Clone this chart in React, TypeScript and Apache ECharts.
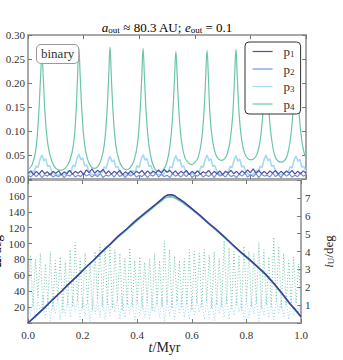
import React, { useEffect, useRef } from "react";
import * as echarts from "echarts";

const FONT = "Liberation Serif";

// ---------- top panel data ----------
const legendNames = ["p1", "p2", "p3", "p4"];
const colors: Record<string, string> = {
  p1: "#5a4ba6",
  p2: "#7395cf",
  p3: "#a6daee",
  p4: "#6cc4ad",
};

const p4T = [0.000,0.015,0.028,0.038,0.045,0.050,0.055,0.062,0.072,0.085,
  0.100,0.117,0.134,0.150,0.163,0.172,0.178,0.183,0.188,0.195,
  0.204,0.215,0.227,0.239,0.251,0.263,0.274,0.283,0.290,0.295,
  0.300,0.307,0.316,0.328,0.341,0.354,0.367,0.381,0.393,0.402,
  0.409,0.414,0.419,0.426,0.435,0.446,0.459,0.473,0.487,0.500,
  0.511,0.520,0.527,0.532,0.537,0.544,0.553,0.564,0.576,0.588,
  0.600,0.612,0.623,0.632,0.639,0.644,0.649,0.655,0.664,0.674,
  0.685,0.696,0.707,0.717,0.727,0.736,0.743,0.748,0.753,0.760,
  0.769,0.779,0.790,0.802,0.814,0.825,0.835,0.844,0.851,0.856,
  0.861,0.868,0.877,0.887,0.898,0.910,0.922,0.933,0.943,0.952,
  0.959,0.964,0.969,0.976,0.985,0.993,1.000];
const p4V = [0.019,0.030,0.060,0.130,0.210,0.262,0.210,0.130,0.070,0.038,
  0.022,0.018,0.022,0.038,0.070,0.130,0.210,0.272,0.210,0.130,
  0.070,0.040,0.026,0.022,0.026,0.040,0.070,0.130,0.210,0.275,
  0.210,0.130,0.070,0.038,0.023,0.019,0.023,0.038,0.070,0.130,
  0.210,0.272,0.210,0.130,0.070,0.036,0.019,0.015,0.019,0.036,
  0.070,0.130,0.210,0.266,0.210,0.130,0.075,0.045,0.034,0.030,
  0.034,0.045,0.075,0.130,0.210,0.268,0.210,0.130,0.080,0.053,
  0.042,0.039,0.042,0.053,0.080,0.130,0.210,0.270,0.210,0.130,
  0.080,0.054,0.043,0.040,0.043,0.054,0.080,0.130,0.210,0.270,
  0.210,0.130,0.080,0.050,0.038,0.035,0.038,0.050,0.080,0.130,
  0.210,0.270,0.210,0.130,0.080,0.055,0.045];

const p3T = [0.000,0.005,0.014,0.022,0.029,0.036,0.043,0.050,0.057,0.064,0.071,0.078,0.086,0.095,0.117,
  0.138,0.147,0.155,0.162,0.169,0.176,0.183,0.190,0.197,0.204,0.211,0.219,0.228,0.239,
  0.250,0.259,0.267,0.274,0.281,0.288,0.295,0.302,0.309,0.316,0.323,0.331,0.340,0.354,
  0.369,0.378,0.386,0.393,0.400,0.407,0.414,0.421,0.428,0.435,0.442,0.450,0.459,0.473,
  0.487,0.496,0.504,0.511,0.518,0.525,0.532,0.539,0.546,0.553,0.560,0.568,0.577,0.588,
  0.599,0.608,0.616,0.623,0.630,0.637,0.644,0.651,0.658,0.665,0.672,0.680,0.689,0.696,
  0.703,0.712,0.720,0.727,0.734,0.741,0.748,0.755,0.762,0.769,0.776,0.784,0.793,0.802,
  0.811,0.820,0.828,0.835,0.842,0.849,0.856,0.863,0.870,0.877,0.884,0.892,0.901,0.910,
  0.919,0.928,0.936,0.943,0.950,0.957,0.964,0.971,0.978,0.985,0.992,1.000];
const p3V = [0.012,0.010,0.017,0.014,0.027,0.024,0.040,0.050,0.038,0.042,0.026,0.028,0.015,0.010,0.008,
  0.011,0.018,0.015,0.029,0.025,0.042,0.052,0.040,0.044,0.027,0.029,0.016,0.010,0.009,
  0.010,0.016,0.013,0.025,0.022,0.038,0.047,0.036,0.040,0.024,0.026,0.014,0.010,0.008,
  0.011,0.017,0.015,0.028,0.024,0.041,0.051,0.039,0.043,0.026,0.028,0.015,0.011,0.009,
  0.010,0.017,0.014,0.026,0.023,0.039,0.049,0.037,0.041,0.025,0.027,0.015,0.011,0.010,
  0.011,0.017,0.014,0.027,0.024,0.040,0.050,0.038,0.042,0.026,0.028,0.015,0.010,0.009,
  0.010,0.016,0.014,0.026,0.024,0.039,0.049,0.037,0.042,0.025,0.027,0.015,0.010,0.008,
  0.011,0.017,0.014,0.027,0.024,0.040,0.050,0.038,0.042,0.026,0.028,0.015,0.010,0.009,
  0.010,0.016,0.014,0.026,0.023,0.039,0.048,0.037,0.041,0.025,0.026,0.016];

// sampled on an even time grid over 0..1 Myr
const p1V = [0.012,0.017,0.009,0.016,0.010,0.018,0.011,0.015,0.008,0.016,0.012,0.017,0.009,0.015,0.011,0.018,0.010,0.016,0.012,0.017,
  0.009,0.019,0.013,0.021,0.012,0.018,0.014,0.020,0.011,0.017,0.010,0.016,0.012,0.018,0.009,0.015,0.011,0.017,0.010,0.016,
  0.012,0.018,0.010,0.017,0.011,0.016,0.013,0.019,0.012,0.020,0.014,0.018,0.011,0.017,0.010,0.016,0.012,0.018,0.009,0.016,
  0.011,0.017,0.010,0.015,0.012,0.018,0.010,0.016,0.011,0.017,0.009,0.016,0.012,0.018,0.011,0.016,0.010,0.017,0.012,0.019,
  0.013,0.021,0.012,0.018,0.011,0.016,0.010,0.017,0.012,0.018,0.010,0.016,0.011,0.017,0.012,0.018,0.010,0.016,0.011,0.017,0.012];
const p2V = [0.008,0.004,0.010,0.005,0.011,0.003,0.009,0.006,0.012,0.004,0.008,0.005,0.010,0.003,0.009,0.006,0.011,0.004,0.008,0.005,
  0.012,0.006,0.010,0.004,0.009,0.005,0.011,0.003,0.008,0.006,0.010,0.004,0.012,0.005,0.009,0.003,0.010,0.006,0.011,0.004,
  0.008,0.005,0.010,0.003,0.009,0.006,0.012,0.004,0.010,0.005,0.008,0.003,0.011,0.006,0.009,0.004,0.010,0.005,0.012,0.003,
  0.008,0.006,0.011,0.004,0.009,0.005,0.010,0.003,0.012,0.006,0.009,0.004,0.011,0.005,0.008,0.003,0.010,0.006,0.012,0.004,
  0.009,0.005,0.011,0.003,0.010,0.006,0.008,0.004,0.012,0.005,0.009,0.003,0.011,0.006,0.010,0.004,0.008,0.005,0.012,0.006,0.009];

// ---------- bottom panel data ----------
const incT = [0,0.03,0.06,0.09,0.12,0.15,0.18,0.21,0.24,0.27,0.30,0.33,0.36,0.39,0.42,0.45,0.47,0.49,0.50,0.51,
  0.52,0.53,0.54,0.55,0.57,0.60,0.63,0.66,0.69,0.72,0.75,0.78,0.81,0.84,0.87,0.90,0.93,0.96,0.98,1.0];
const incDark = [0,9.5,19,29.5,39,49.5,59,69.5,79,89.5,99,109.5,118,127.5,136,144.5,150,156,159,161,
  161.5,161,159.5,157,152.5,144,135.5,126,117.5,108,98.5,89,80.5,71,61.5,50,37.5,24,16.5,8];
const incTeal = [0,9,19,29,39,49,59,69,79,89,98.5,108,117,126,135,143,149,154,157,158.5,
  159,158.5,157,155,150.5,143,134.5,125.5,116.5,107.5,97.5,88.5,79.5,70.5,60.5,49.5,36.5,23.5,15.5,7.5];

const dotTeal = [1.2,3.8,0.9,3.6,1.4,3.9,0.7,3.3,1.1,4.0,0.8,3.5,1.3,3.7,0.6,3.4,1.0,4.1,0.9,4.5,
  1.2,3.6,0.8,3.9,1.1,3.4,0.7,4.0,1.3,4.4,0.9,4.3,1.0,4.3,0.8,4.1,1.2,3.9,0.7,3.6,
  1.0,4.2,0.9,3.5,1.1,3.7,0.8,3.4,1.2,3.6,0.7,3.9,1.0,3.5,0.9,4.6,1.1,4.1,0.8,3.7,
  1.2,3.5,0.9,3.6,1.0,4.1,0.7,4.0,1.1,3.9,0.9,4.1,1.2,3.8,0.8,4.0,1.0,3.6,0.9,4.6,
  1.1,4.2,0.8,4.0,1.0,3.8,0.7,4.3,1.2,4.0,0.9,3.9,1.1,4.5,0.8,4.1,1.0,3.7,0.9,4.8,
  1.2,4.3,0.8,3.9,1.0,3.5,0.9,3.7,1.1,3.3,1.0];
const dotBlue = [1.3,0.4,1.4,0.2,1.3,0.6,1.5,0.3,1.3,0.1,1.4,0.5,1.3,0.2,1.4,0.4,1.3,0.3,1.5,0.6,
  1.3,0.2,1.4,0.4,1.3,0.1,1.4,0.5,1.3,0.3,1.5,0.2,1.3,0.4,1.4,0.6,1.3,0.2,1.4,0.3,
  1.3,0.5,1.4,0.1,1.3,0.4,1.5,0.3,1.3,0.2,1.4,0.6,1.3,0.3,1.4,0.1,1.3,0.4,1.4,0.2,
  1.3,0.5,1.5,0.3,1.3,0.2,1.4,0.4,1.3,0.6,1.4,0.2,1.3,0.3,1.4,0.1,1.3,0.5,1.4,0.3,
  1.5,0.2,1.3,0.4,1.4,0.6,1.3,0.2,1.4,0.3,1.3,0.5,1.4,0.1,1.3,0.4,1.5,0.3,1.3,0.2,
  1.4,0.5,1.3,0.3,1.4,0.2,1.3,0.4,1.4,0.6,1.3];

const zip = (ts: number[], vs: number[]) => ts.map((t, i) => [t, vs[i]]);
const onGrid = (vs: number[]) => vs.map((v, i) => [i / (vs.length - 1), v]);

const SPINE = { show: true, onZero: false, lineStyle: { color: "#a8a8a8", width: 2 } };
const TICK = { show: true, inside: true, length: 4, lineStyle: { color: "#777", width: 1 } };
const LABEL = { fontFamily: FONT, fontSize: 11, color: "#333" };
const sub = { fontFamily: FONT, fontSize: 9, color: "#222", padding: [5, 0, 0, 0] };
const ital = { fontFamily: FONT, fontSize: 13, fontStyle: "italic", color: "#222" };
const norm = { fontFamily: FONT, fontSize: 13, color: "#222" };

export default function App() {
  const ref = useRef<HTMLDivElement>(null);
  useEffect(() => {
    if (!ref.current) return;
    const chart = echarts.init(ref.current, undefined, { renderer: "svg" });
    const plain = (extra: any = {}) => ({
      type: "value",
      min: 0,
      max: 1,
      interval: 0.2,
      axisLine: SPINE,
      axisTick: TICK,
      axisLabel: { show: false },
      splitLine: { show: false },
      ...extra,
    });
    const topSeries = ["p4", "p3", "p2", "p1"].map((n) => {
      const data =
        n === "p4" ? zip(p4T, p4V) : n === "p3" ? zip(p3T, p3V) : n === "p2" ? onGrid(p2V) : onGrid(p1V);
      return {
        name: n,
        type: "line",
        xAxisIndex: 0,
        yAxisIndex: 0,
        data,
        symbol: "none",
        smooth: n === "p4" ? 0.4 : false,
        lineStyle: { color: colors[n], width: n === "p3" ? 1.6 : 1.2 },
        itemStyle: { color: colors[n] },
        z: 2,
      };
    });
    chart.setOption({
      animation: false,
      backgroundColor: "#fff",
      textStyle: { fontFamily: FONT },
      grid: [
        { left: 28, top: 35, width: 278, height: 144 },
        { left: 28, top: 180, width: 278, height: 143 },
      ],
      xAxis: [
        plain({ gridIndex: 0, position: "bottom" }),
        plain({ gridIndex: 0, position: "top" }),
        plain({
          gridIndex: 1,
          position: "bottom",
          axisLabel: { show: true, ...LABEL, margin: 6, formatter: (v: number) => v.toFixed(1) },
          name: "{i|t}{n|/Myr}",
          nameLocation: "middle",
          nameGap: 14,
          nameTextStyle: { rich: { i: { ...ital, fontSize: 14 }, n: { ...norm, fontSize: 14 } } },
        }),
        plain({ gridIndex: 1, position: "top" }),
      ],
      yAxis: [
        {
          type: "value", gridIndex: 0, position: "left", min: 0, max: 0.3, interval: 0.05,
          axisLine: SPINE, axisTick: TICK, splitLine: { show: false },
          axisLabel: { ...LABEL, margin: 3, formatter: (v: number) => v.toFixed(2) },
        },
        {
          type: "value", gridIndex: 0, position: "right", min: 0, max: 0.3, interval: 0.05,
          axisLine: SPINE, axisTick: TICK, splitLine: { show: false }, axisLabel: { show: false },
        },
        {
          type: "value", gridIndex: 1, position: "left", min: 0, max: 180, interval: 20,
          axisLine: SPINE, axisTick: TICK, splitLine: { show: false },
          axisLabel: { ...LABEL, margin: 3, formatter: (v: number) => (v === 0 || v === 180 ? "" : String(v)) },
        },
        {
          type: "value", gridIndex: 1, position: "right", min: 0, max: 8, interval: 1,
          axisLine: SPINE, axisTick: TICK, splitLine: { show: false },
          axisLabel: { ...LABEL, margin: 4, formatter: (v: number) => (v === 0 || v === 8 ? "" : String(v)) },
          name: "{i|i}{s|U}{n|/deg}",
          nameLocation: "middle",
          nameRotate: 90,
          nameGap: 14,
          nameTextStyle: { rich: { i: { ...ital }, s: { ...sub }, n: { ...norm } } },
        },
      ],
      legend: {
        data: legendNames,
        orient: "vertical",
        left: 245,
        top: 42,
        backgroundColor: "#fff",
        borderColor: "#333",
        borderWidth: 1,
        borderRadius: 4,
        padding: [3, 6, 3, 7],
        itemGap: 4,
        itemWidth: 20,
        itemHeight: 14,
        itemStyle: { opacity: 0 },
        lineStyle: { width: 1.2 },
        formatter: (name: string) => `{g|}{p|p}{s|${name.slice(1)}}`,
        textStyle: {
          rich: {
            g: { width: 6 },
            p: { fontFamily: FONT, fontSize: 13, color: "#333" },
            s: { fontFamily: FONT, fontSize: 9, color: "#333", padding: [5, 0, 0, 0] },
          },
        },
      },
      graphic: [
        {
          type: "text",
          x: 167,
          y: 20,
          z: 100,
          style: {
            text: "{i|a}{s|out}{n| ≈ 80.3 AU; }{i|e}{s|out}{n| = 0.1}",
            align: "center",
            verticalAlign: "top",
            rich: { i: ital, s: sub, n: norm },
          },
        },
        {
          type: "text",
          x: -4,
          y: 251,
          rotation: Math.PI / 2,
          z: 100,
          style: {
            text: "{i|Ω}{n|/deg}",
            align: "center",
            verticalAlign: "middle",
            rich: { i: ital, n: norm },
          },
        },
        {
          type: "text",
          x: 37,
          y: 45,
          z: 100,
          style: {
            text: "binary",
            font: `13px ${FONT}`,
            fill: "#333",
            backgroundColor: "#fff",
            borderColor: "#999",
            borderWidth: 1,
            borderRadius: 4,
            padding: [2, 4, 3, 4],
          },
        },
      ],
      series: [
        ...topSeries,
        {
          name: "dotTeal", type: "line", xAxisIndex: 2, yAxisIndex: 3, data: onGrid(dotTeal),
          symbol: "none", lineStyle: { color: "#76c7ae", width: 1, type: [1, 2] }, z: 1,
        },
        {
          name: "dotBlue", type: "line", xAxisIndex: 2, yAxisIndex: 3, data: onGrid(dotBlue),
          symbol: "none", lineStyle: { color: "#a3d5ef", width: 1, type: [1, 2] }, z: 1,
        },
        {
          name: "incTeal", type: "line", xAxisIndex: 2, yAxisIndex: 2, data: zip(incT, incTeal),
          symbol: "none", lineStyle: { color: "#6cc4ad", width: 1.6 }, z: 2,
        },
        {
          name: "incDark", type: "line", xAxisIndex: 2, yAxisIndex: 2, data: zip(incT, incDark),
          symbol: "none", lineStyle: { color: "#3c3f9c", width: 1.6 }, z: 3,
        },
      ],
    });
    return () => chart.dispose();
  }, []);
  return (
    <div
      ref={ref}
      style={{ position: "fixed", left: 0, top: 0, width: 343, height: 360, background: "#fff" }}
    />
  );
}
